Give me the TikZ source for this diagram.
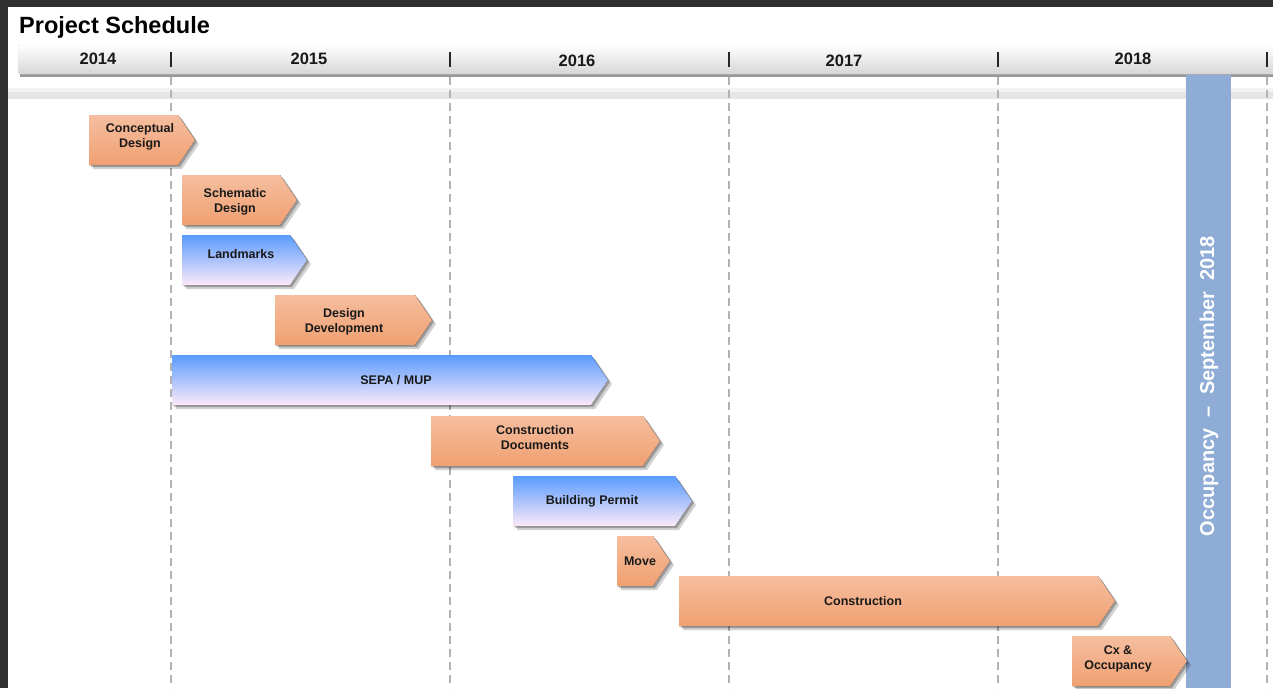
\documentclass[tikz,border=0pt]{standalone}
\usepackage{fontspec}
\setmainfont{Liberation Sans}
\definecolor{orangetop}{HTML}{F5BE9F}
\definecolor{orangebot}{HTML}{F0A071}
\definecolor{bluetop}{HTML}{5A9BFF}
\definecolor{bluemid}{HTML}{9EC2EE}
\definecolor{bluebot}{HTML}{FCEAF8}
\definecolor{occblue}{HTML}{8FACD6}
\definecolor{framegray}{HTML}{2F2F2F}
\tikzset{
  orangebar/.style={top color=orangetop, bottom color=orangebot},
  bluebar/.style={top color=bluetop, middle color=bluemid, bottom color=bluebot},
  phaselbl/.style={font=\bfseries\fontsize{12.5}{15}\selectfont, text=black!90, align=center, inner sep=0pt},
  yearlbl/.style={font=\bfseries\fontsize{16.5}{18}\selectfont, text=black!90, inner sep=0pt},
  gridline/.style={draw=black!30, line width=1.4pt, dash pattern=on 8pt off 5pt}
}
\begin{document}
\begin{tikzpicture}[x=1pt,y=-1pt]
\useasboundingbox (0,0) rectangle (1273,688);
\fill[white] (0,0) rectangle (1273,688);
\fill[framegray] (0,0) rectangle (1273,7);
\fill[framegray] (0,0) rectangle (8,688);
\node[anchor=base west, font=\bfseries\fontsize{23.5}{26}\selectfont, inner sep=0pt] (title) at (19,33) {Project Schedule};
\fill[black!5] (8,88) rectangle (1273,92);
\fill[black!10] (8,92) rectangle (1273,99);
\fill[black!40] (20,73) rectangle (1273,77);
\shade[top color=white, bottom color=black!16, draw=black!12, rounded corners=2pt] (18,45) rectangle (1275,74);
\foreach \x in {171,450,729,998,1267} {
  \fill[black!85] (\x-1,52) rectangle (\x+1,67);
  \draw[gridline] (\x,77) -- (\x,688);
}
\node[yearlbl] (y2014) at (98,59) {2014};
\node[yearlbl] (y2015) at (309,59) {2015};
\node[yearlbl] (y2016) at (577,61) {2016};
\node[yearlbl] (y2017) at (844,61) {2017};
\node[yearlbl] (y2018) at (1133,59) {2018};
\fill[occblue] (1186,75) rectangle (1231,688);
\node[rotate=90, text=white, font=\bfseries\fontsize{20}{22}\selectfont, inner sep=0pt] (occ) at (1209,386) {Occupancy\ \ –\ \ September\ \ 2018};
\foreach \xa/\xb/\yt/\tx/\ty/\kind/\nm/\txt in {
  89/195/115/140/137/orangebar/concept/{Conceptual\\Design},
  182/297/175/235/202/orangebar/schem/{Schematic\\Design},
  182/307/235/241/254/bluebar/landmk/Landmarks,
  275/432/295/344/322/orangebar/desdev/{Design\\Development},
  172/608/355/396/380/bluebar/sepa/{SEPA / MUP},
  431/660/416/535/438/orangebar/cdocs/{Construction\\Documents},
  513/692/476/592/501/bluebar/permit/{Building Permit},
  617/670/536/640/561/orangebar/move/Move,
  679/1115/576/863/601/orangebar/constr/Construction,
  1072/1187/636/1118/659/orangebar/cxocc/{Cx \&\\Occupancy}} {
  \fill[black, opacity=.18] (\xa+4,\yt+4) -- (\xb-13,\yt+4) -- (\xb+4,\yt+29) -- (\xb-13,\yt+54) -- (\xa+4,\yt+54) -- cycle;
  \fill[black, opacity=.25] (\xa+2,\yt+2) -- (\xb-15,\yt+2) -- (\xb+2,\yt+27) -- (\xb-15,\yt+52) -- (\xa+2,\yt+52) -- cycle;
  \fill[\kind] (\xa,\yt) -- (\xb-17,\yt) -- (\xb,\yt+25) -- (\xb-17,\yt+50) -- (\xa,\yt+50) -- cycle;
  \node[phaselbl] (\nm) at (\tx,\ty) {\txt};
}
\end{tikzpicture}
\end{document}
